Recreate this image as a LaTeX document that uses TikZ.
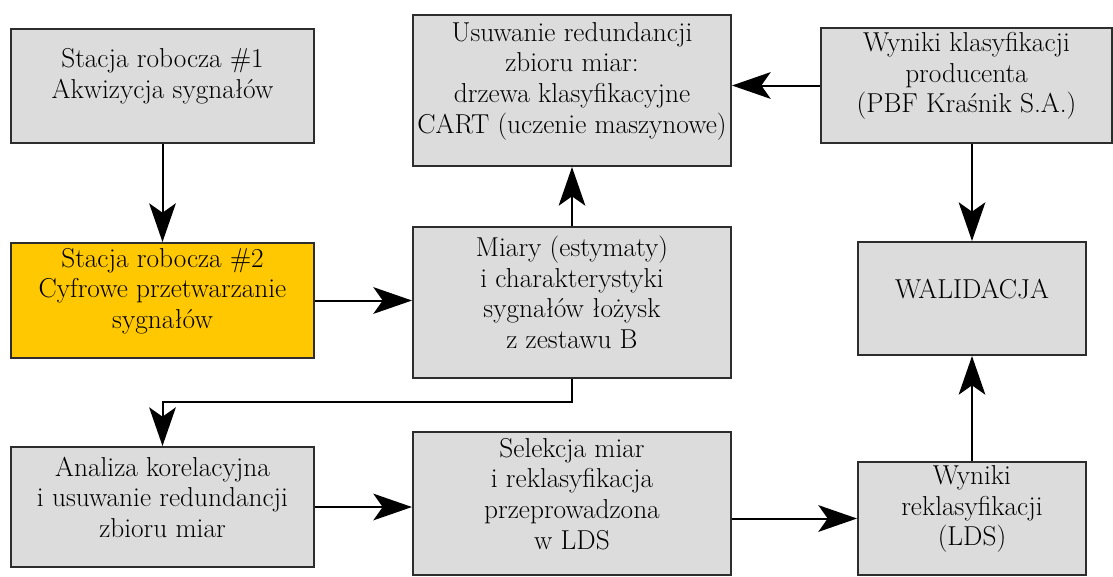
\documentclass[tikz,border=0pt]{standalone}
\usepackage{fontspec}
\usetikzlibrary{arrows.meta,fit}
\definecolor{boxgray}{RGB}{220,220,220}
\definecolor{boxline}{RGB}{45,45,45}
\definecolor{stationyellow}{RGB}{255,200,0}
\begin{document}
\begin{tikzpicture}[x=0.75pt,y=-0.75pt,
  box/.style={draw=boxline, line width=1.5pt, fill=boxgray, inner sep=0pt,
    align=center, font=\fontsize{20.5}{23}\selectfont},
  flow/.style={draw=black, line width=1.5pt,
    -{Stealth[length=29pt,width=20pt,inset=7pt]}}]
  \useasboundingbox (0,0) rectangle (1113,576);

  % left column
  \node[box, fit={(11,29) (314,143)}] (s1) {Stacja robocza \#1\\Akwizycja sygnałów};
  \node[box, fill=stationyellow, fit={(11,243) (314,358)}] (s2)
    {Stacja robocza \#2\\Cyfrowe przetwarzanie\\sygnałów};
  \node[box, fit={(11,447) (314,567)}] (anal)
    {Analiza korelacyjna\\i usuwanie redundancji\\zbioru miar};

  % middle column
  \node[box, fit={(413,15) (731,166)}] (usuw)
    {Usuwanie redundancji\\zbioru miar:\\drzewa klasyfikacyjne\\CART (uczenie maszynowe)};
  \node[box, fit={(413,227) (731,378)}] (miary)
    {Miary (estymaty)\\i charakterystyki\\sygnałów łożysk\\z zestawu B};
  \node[box, fit={(413,432) (731,575)}] (sel)
    {Selekcja miar\\i reklasyfikacja\\przeprowadzona\\w LDS};

  % right column
  \node[box, fit={(821,28) (1112,143)}] (wyn)
    {Wyniki klasyfikacji\\producenta\\(PBF Kraśnik S.A.)};
  \node[box, fit={(858,242) (1086,355)}] (wal) {WALIDACJA};
  \node[box, fit={(858,462) (1086,575)}] (rekl)
    {Wyniki\\reklasyfikacji\\(LDS)};

  % connectors
  \draw[flow] (s1.south) -- (s2.north);
  \draw[flow] (s2.east) -- (s2.east -| miary.west);
  \draw[flow] (miary.north) -- (usuw.south);
  \draw[flow] (wyn.west) -- (wyn.west -| usuw.east);
  \draw[flow] (wal.north |- wyn.south) -- (wal.north);
  \draw[flow] (rekl.north) -- (wal.south);
  \draw[flow] (miary.south) -- ++(0,23) -| (anal.north);
  \draw[flow] (anal.east) -- (anal.east -| sel.west);
  \draw[flow] (rekl.west -| sel.east) -- (rekl.west);
\end{tikzpicture}
\end{document}
